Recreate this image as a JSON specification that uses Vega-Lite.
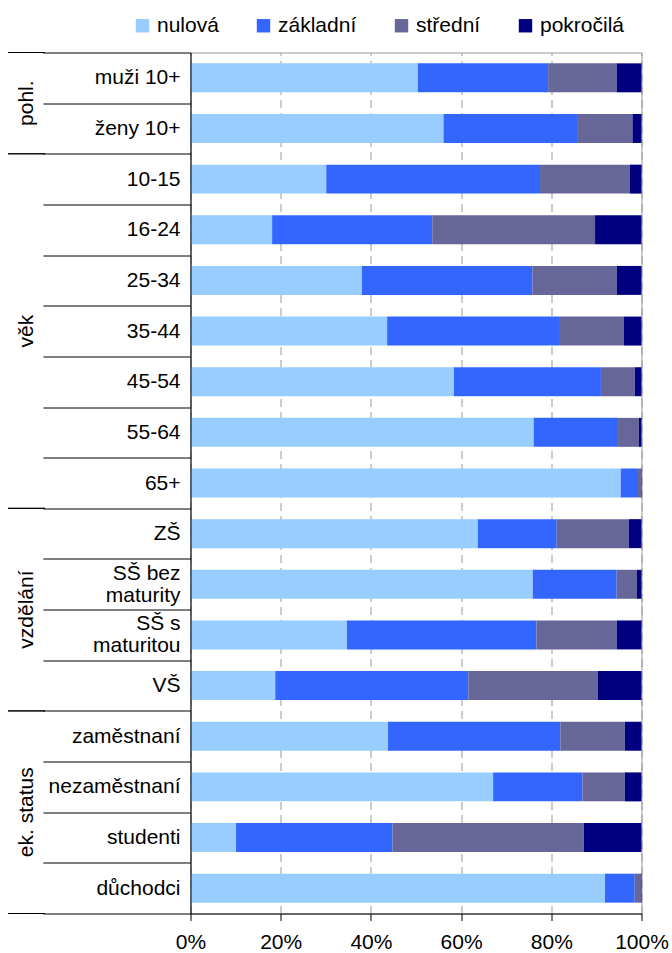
{
  "$schema": "https://vega.github.io/schema/vega-lite/v6.json",
  "padding": {"left": 7, "top": 14.5, "right": 0, "bottom": 0},
  "config": {
    "font": "Liberation Sans",
    "view": {"stroke": "#999999"}
  },
  "datasets": {
    "groups": [
      {"group": "pohl.", "first": "muži 10+", "last": "ženy 10+", "mid": "ženy 10+"},
      {"group": "věk", "first": "10-15", "last": "65+", "mid": "35-44"},
      {"group": "vzdělání", "first": "ZŠ", "last": "VŠ", "mid": "SŠ s\nmaturitou"},
      {"group": "ek. status", "first": "zaměstnaní", "last": "důchodci", "mid": "studenti"}
    ],
    "shares": [
      {"category": "muži 10+", "level": "nulová", "level_no": 0, "share": 50.4},
      {"category": "muži 10+", "level": "základní", "level_no": 1, "share": 28.9},
      {"category": "muži 10+", "level": "střední", "level_no": 2, "share": 15.2},
      {"category": "muži 10+", "level": "pokročilá", "level_no": 3, "share": 5.5},
      {"category": "ženy 10+", "level": "nulová", "level_no": 0, "share": 56.1},
      {"category": "ženy 10+", "level": "základní", "level_no": 1, "share": 29.8},
      {"category": "ženy 10+", "level": "střední", "level_no": 2, "share": 12.1},
      {"category": "ženy 10+", "level": "pokročilá", "level_no": 3, "share": 2.0},
      {"category": "10-15", "level": "nulová", "level_no": 0, "share": 30.1},
      {"category": "10-15", "level": "základní", "level_no": 1, "share": 47.4},
      {"category": "10-15", "level": "střední", "level_no": 2, "share": 19.9},
      {"category": "10-15", "level": "pokročilá", "level_no": 3, "share": 2.6},
      {"category": "16-24", "level": "nulová", "level_no": 0, "share": 18.1},
      {"category": "16-24", "level": "základní", "level_no": 1, "share": 35.5},
      {"category": "16-24", "level": "střední", "level_no": 2, "share": 36.1},
      {"category": "16-24", "level": "pokročilá", "level_no": 3, "share": 10.3},
      {"category": "25-34", "level": "nulová", "level_no": 0, "share": 38.0},
      {"category": "25-34", "level": "základní", "level_no": 1, "share": 37.8},
      {"category": "25-34", "level": "střední", "level_no": 2, "share": 18.7},
      {"category": "25-34", "level": "pokročilá", "level_no": 3, "share": 5.5},
      {"category": "35-44", "level": "nulová", "level_no": 0, "share": 43.6},
      {"category": "35-44", "level": "základní", "level_no": 1, "share": 38.1},
      {"category": "35-44", "level": "střední", "level_no": 2, "share": 14.4},
      {"category": "35-44", "level": "pokročilá", "level_no": 3, "share": 3.9},
      {"category": "45-54", "level": "nulová", "level_no": 0, "share": 58.4},
      {"category": "45-54", "level": "základní", "level_no": 1, "share": 32.6},
      {"category": "45-54", "level": "střední", "level_no": 2, "share": 7.5},
      {"category": "45-54", "level": "pokročilá", "level_no": 3, "share": 1.5},
      {"category": "55-64", "level": "nulová", "level_no": 0, "share": 76.1},
      {"category": "55-64", "level": "základní", "level_no": 1, "share": 18.7},
      {"category": "55-64", "level": "střední", "level_no": 2, "share": 4.6},
      {"category": "55-64", "level": "pokročilá", "level_no": 3, "share": 0.6},
      {"category": "65+", "level": "nulová", "level_no": 0, "share": 95.4},
      {"category": "65+", "level": "základní", "level_no": 1, "share": 3.6},
      {"category": "65+", "level": "střední", "level_no": 2, "share": 0.85},
      {"category": "65+", "level": "pokročilá", "level_no": 3, "share": 0.15},
      {"category": "ZŠ", "level": "nulová", "level_no": 0, "share": 63.7},
      {"category": "ZŠ", "level": "základní", "level_no": 1, "share": 17.5},
      {"category": "ZŠ", "level": "střední", "level_no": 2, "share": 16.0},
      {"category": "ZŠ", "level": "pokročilá", "level_no": 3, "share": 2.8},
      {"category": "SŠ bez\nmaturity", "level": "nulová", "level_no": 0, "share": 75.9},
      {"category": "SŠ bez\nmaturity", "level": "základní", "level_no": 1, "share": 18.6},
      {"category": "SŠ bez\nmaturity", "level": "střední", "level_no": 2, "share": 4.5},
      {"category": "SŠ bez\nmaturity", "level": "pokročilá", "level_no": 3, "share": 1.0},
      {"category": "SŠ s\nmaturitou", "level": "nulová", "level_no": 0, "share": 34.7},
      {"category": "SŠ s\nmaturitou", "level": "základní", "level_no": 1, "share": 42.0},
      {"category": "SŠ s\nmaturitou", "level": "střední", "level_no": 2, "share": 17.8},
      {"category": "SŠ s\nmaturitou", "level": "pokročilá", "level_no": 3, "share": 5.5},
      {"category": "VŠ", "level": "nulová", "level_no": 0, "share": 18.8},
      {"category": "VŠ", "level": "základní", "level_no": 1, "share": 42.8},
      {"category": "VŠ", "level": "střední", "level_no": 2, "share": 28.7},
      {"category": "VŠ", "level": "pokročilá", "level_no": 3, "share": 9.7},
      {"category": "zaměstnaní", "level": "nulová", "level_no": 0, "share": 43.8},
      {"category": "zaměstnaní", "level": "základní", "level_no": 1, "share": 38.2},
      {"category": "zaměstnaní", "level": "střední", "level_no": 2, "share": 14.3},
      {"category": "zaměstnaní", "level": "pokročilá", "level_no": 3, "share": 3.7},
      {"category": "nezaměstnaní", "level": "nulová", "level_no": 0, "share": 67.1},
      {"category": "nezaměstnaní", "level": "základní", "level_no": 1, "share": 19.8},
      {"category": "nezaměstnaní", "level": "střední", "level_no": 2, "share": 9.4},
      {"category": "nezaměstnaní", "level": "pokročilá", "level_no": 3, "share": 3.7},
      {"category": "studenti", "level": "nulová", "level_no": 0, "share": 10.1},
      {"category": "studenti", "level": "základní", "level_no": 1, "share": 34.7},
      {"category": "studenti", "level": "střední", "level_no": 2, "share": 42.4},
      {"category": "studenti", "level": "pokročilá", "level_no": 3, "share": 12.8},
      {"category": "důchodci", "level": "nulová", "level_no": 0, "share": 91.9},
      {"category": "důchodci", "level": "základní", "level_no": 1, "share": 6.6},
      {"category": "důchodci", "level": "střední", "level_no": 2, "share": 1.3},
      {"category": "důchodci", "level": "pokročilá", "level_no": 3, "share": 0.2}
    ]
  },
  "resolve": {"scale": {"y": "shared"}},
  "spacing": -4.5,
  "hconcat": [
    {
      "width": 37,
      "height": 861,
      "view": {"stroke": null},
      "data": {"name": "groups"},
      "layer": [
        {
          "mark": {"type": "rule", "color": "black", "strokeWidth": 1},
          "encoding": {
            "y": {
              "field": "first", "type": "nominal", "bandPosition": 0, "axis": null,
              "scale": {
                "domain": ["muži 10+", "ženy 10+", "10-15", "16-24", "25-34", "35-44", "45-54", "55-64", "65+", "ZŠ", "SŠ bez\nmaturity", "SŠ s\nmaturitou", "VŠ", "zaměstnaní", "nezaměstnaní", "studenti", "důchodci"],
                "paddingInner": 0, "paddingOuter": 0
              }
            }
          }
        },
        {
          "mark": {"type": "rule", "color": "black", "strokeWidth": 1},
          "encoding": {
            "y": {"field": "last", "type": "nominal", "bandPosition": 1, "axis": null}
          }
        },
        {
          "transform": [{"filter": "datum.group !== 'věk'"}],
          "mark": {"type": "text", "angle": 270, "fontSize": 21, "color": "black", "align": "center", "baseline": "middle"},
          "encoding": {
            "y": {"field": "mid", "type": "nominal", "bandPosition": 0, "axis": null},
            "text": {"field": "group"}
          }
        },
        {
          "transform": [{"filter": "datum.group === 'věk'"}],
          "mark": {"type": "text", "angle": 270, "fontSize": 21, "color": "black", "align": "center", "baseline": "middle"},
          "encoding": {
            "y": {"field": "mid", "type": "nominal", "bandPosition": 0.5, "axis": null},
            "text": {"field": "group"}
          }
        }
      ]
    },
    {
      "width": 451,
      "height": 861,
      "data": {"name": "shares"},
      "mark": {"type": "bar", "height": {"band": 0.572}},
      "encoding": {
        "y": {
          "field": "category",
          "type": "nominal",
          "scale": {
            "domain": ["muži 10+", "ženy 10+", "10-15", "16-24", "25-34", "35-44", "45-54", "55-64", "65+", "ZŠ", "SŠ bez\nmaturity", "SŠ s\nmaturitou", "VŠ", "zaměstnaní", "nezaměstnaní", "studenti", "důchodci"],
            "paddingInner": 0, "paddingOuter": 0
          },
          "axis": {
            "title": null,
            "zindex": 1,
            "domainColor": "black",
            "tickColor": "black",
            "tickSize": 147.6,
            "tickBand": "extent",
            "labelFontSize": 21,
            "labelColor": "black",
            "labelLimit": 200,
            "labelExpr": "indexof(datum.label, '\\n') >= 0 ? [split(datum.label, '\\n')[0], '\u2800', split(datum.label, '\\n')[1]] : ['\u2800', datum.label]",
            "labelLineHeight": 11,
            "labelOffset": -11,
            "labelPadding": -137.1
          }
        },
        "x": {
          "field": "share",
          "type": "quantitative",
          "stack": "normalize",
          "scale": {"domain": [0, 1]},
          "axis": {
            "title": null,
            "format": "%",
            "values": [0, 0.2, 0.4, 0.6, 0.8, 1],
            "labelFontSize": 21,
            "labelColor": "black",
            "labelFlush": false,
            "labelPadding": 11,
            "tickSize": 7,
            "tickColor": "black",
            "domainColor": "black",
            "grid": true,
            "gridColor": "#999999",
            "gridDash": [8, 5]
          }
        },
        "color": {
          "field": "level",
          "type": "nominal",
          "scale": {
            "domain": ["nulová", "základní", "střední", "pokročilá"],
            "range": ["#99ccff", "#3366ff", "#666699", "#000080"]
          },
          "legend": {
            "title": null,
            "orient": "none",
            "legendX": 124,
            "legendY": -37.5,
            "direction": "horizontal",
            "columns": 4,
            "symbolType": "square",
            "symbolSize": 180,
            "symbolStrokeWidth": 0,
            "symbolOpacity": 1,
            "labelFontSize": 21,
            "labelColor": "black",
            "labelOffset": 4,
            "columnPadding": 34
          }
        },
        "order": {"field": "level_no", "type": "quantitative"}
      }
    }
  ]
}
